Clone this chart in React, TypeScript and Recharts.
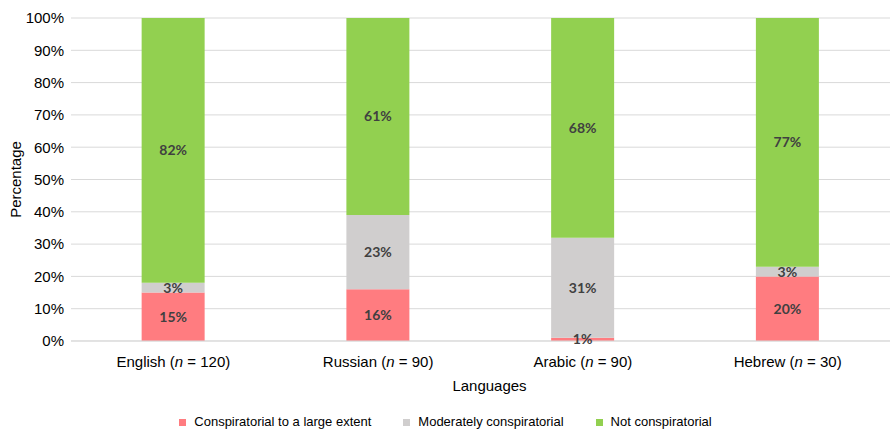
import { Bar, BarChart, CartesianGrid, LabelList, Legend, XAxis, YAxis } from "recharts";

const languages = ["English", "Russian", "Arabic", "Hebrew"];
const sampleSizes = [120, 90, 90, 30];
const largeExtent = [15, 16, 1, 20];
const moderately = [3, 23, 31, 3];
const notConspiratorial = [82, 61, 68, 77];
const yTicks = [0, 10, 20, 30, 40, 50, 60, 70, 80, 90, 100];

const data = languages.map((lang, i) => ({
    lang,
    n: sampleSizes[i],
    large: largeExtent[i],
    moderate: moderately[i],
    not: notConspiratorial[i],
}));

const AXIS_FONT = "Arial, 'Liberation Sans', sans-serif";
const LABEL_FONT = "Lato, 'Open Sans', sans-serif";

const series = [
    { key: "large", name: "Conspiratorial to a large extent", color: "#FF7C80" },
    { key: "moderate", name: "Moderately conspiratorial", color: "#D0CECE" },
    { key: "not", name: "Not conspiratorial", color: "#92D050" },
];

function LangTick({ x, y, payload }: any) {
    const row = data.find((d) => d.lang === payload.value);
    return (
        <text x={x} y={y} dy="0.71em" textAnchor="middle" fill="#000" fontSize={15} fontFamily={AXIS_FONT}>
            {payload.value} (<tspan fontStyle="italic">n</tspan> = {row ? row.n : ""})
        </text>
    );
}

// fixed 16px tall so the plot area bottom lands on the same row as the reference
function LegendContent() {
    return (
        <div style={{ display: "flex", justifyContent: "center", gap: 32, height: 16, lineHeight: "16px", fontFamily: AXIS_FONT, fontSize: 13, color: "#000" }}>
            {series.map((s) => (
                <div key={s.key} style={{ display: "flex", alignItems: "center" }}>
                    <span style={{ width: 7, height: 7, background: s.color, display: "inline-block", marginRight: 8 }} />
                    {s.name}
                </div>
            ))}
        </div>
    );
}

export default function App() {
    return (
        <div style={{ position: "absolute", left: 0, top: 0, width: 891, height: 432, background: "#fff" }}>
            <BarChart width={891} height={432} data={data} margin={{ top: 18, right: 1, left: 0, bottom: 0 }} barCategoryGap="34.5%">
                <CartesianGrid vertical={false} stroke="#D9D9D9" />
                <XAxis
                    dataKey="lang"
                    height={75}
                    tickLine={false}
                    tickSize={0}
                    tickMargin={15}
                    axisLine={{ stroke: "#D9D9D9" }}
                    tick={<LangTick />}
                    interval={0}
                    label={{
                        content: ({ viewBox }: any) => (
                            <text x={viewBox.x + viewBox.width / 2 + 9} y={391} textAnchor="middle" fontSize={15} fontFamily={AXIS_FONT} fill="#000">
                                Languages
                            </text>
                        ),
                    }}
                />
                <YAxis
                    width={71}
                    domain={[0, 100]}
                    ticks={yTicks}
                    interval={0}
                    tickLine={false}
                    axisLine={false}
                    tickSize={0}
                    tickMargin={7}
                    tickFormatter={(v: number) => `${v}%`}
                    tick={{ fill: "#000", fontSize: 15, fontFamily: AXIS_FONT }}
                    label={{
                        content: ({ viewBox }: any) => {
                            const cy = viewBox.y + viewBox.height / 2;
                            return (
                                <text x={21} y={cy} transform={`rotate(-90 21 ${cy})`} textAnchor="middle" fontSize={15} fontFamily={AXIS_FONT} fill="#000">
                                    Percentage
                                </text>
                            );
                        },
                    }}
                />
                <Legend verticalAlign="bottom" content={<LegendContent />} wrapperStyle={{ bottom: 2, left: 0, width: 891 }} />
                {series.map((s) => (
                    <Bar key={s.key} dataKey={s.key} name={s.name} stackId="a" fill={s.color} isAnimationActive={false}>
                        <LabelList
                            dataKey={s.key}
                            position="center"
                            formatter={(v: any) => `${v}%`}
                            fill="#404040"
                            fontSize={14}
                            fontWeight="bold"
                            fontFamily={LABEL_FONT}
                        />
                    </Bar>
                ))}
            </BarChart>
        </div>
    );
}
